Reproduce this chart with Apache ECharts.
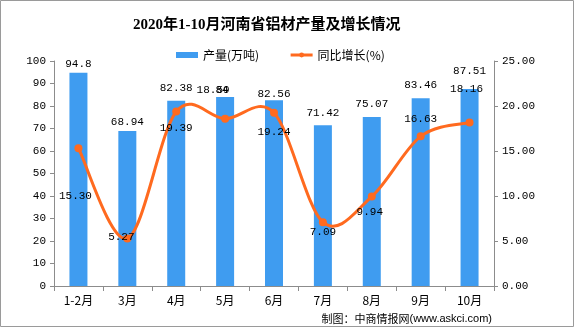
<!DOCTYPE html>
<html><head><meta charset="utf-8">
<script src="https://cdn.jsdelivr.net/npm/echarts@6/dist/echarts.min.js"></script>
<style>html,body{margin:0;padding:0;background:#fff}#c{width:574px;height:327px}</style>
</head><body><div id="c"></div>
<script>
const categories = ['1-2月','3月','4月','5月','6月','7月','8月','9月','10月'];
const output = [94.8, 68.94, 82.38, 84, 82.56, 71.42, 75.07, 83.46, 87.51];
const growth = [15.30, 5.27, 19.39, 18.59, 19.24, 7.09, 9.94, 16.63, 18.16];
const leftTicks = {min: 0, max: 100, interval: 10};
const rightTicks = {min: 0, max: 25, interval: 5};

// label placement styles (pixel offsets)
const lineLabelOffsets = [[-3,48],[-6,-1],[0,17],[-12,-29],[0,19],[0,10],[-2,16],[0,-17],[-3,-33]];
const barLabelGaps = [9,9,13,7,7,13,13,14,19];
const barLabelDx = [0,0,0,-3,0,0,0,0,0];

const numFont = 'Liberation Mono';
const orange = '#FF6A1F';
const blue = '#3F9CF0';

// Excel-like smoothed segment (Catmull-Rom -> cubic bezier) between point i and i+1
function renderSegment(params, api) {
  const i = params.dataIndex;
  if (i >= growth.length - 1) return null;
  const P = k => {
    const kk = Math.max(0, Math.min(growth.length - 1, k));
    return api.coord([kk, growth[kk]]);
  };
  const p0 = P(i - 1), p1 = P(i), p2 = P(i + 1), p3 = P(i + 2);
  const c1 = [p1[0] + (p2[0] - p0[0]) / 6, p1[1] + (p2[1] - p0[1]) / 6];
  const c2 = [p2[0] - (p3[0] - p1[0]) / 6, p2[1] - (p3[1] - p1[1]) / 6];
  return {
    type: 'bezierCurve',
    shape: {x1: p1[0], y1: p1[1], cpx1: c1[0], cpy1: c1[1], cpx2: c2[0], cpy2: c2[1], x2: p2[0], y2: p2[1]},
    style: {stroke: orange, lineWidth: 3, fill: 'none', lineCap: 'round'}
  };
}

const chart = echarts.init(document.getElementById('c'));
chart.setOption({
  animation: false,
  title: {
    text: '2020年1-10月河南省铝材产量及增长情况',
    left: 128, top: 13,
    textStyle: {fontSize: 15, fontWeight: 'bold', color: '#000', fontFamily: 'Liberation Serif, Noto Sans CJK SC'}
  },
  legend: {
    top: 44, left: 171, itemGap: 30,
    textStyle: {fontSize: 12, color: '#000', fontFamily: 'Noto Sans CJK SC'},
    data: [
      {name: '产量(万吨)', icon: 'rect', itemStyle: {color: blue}},
      {name: '同比增长(%)', lineStyle: {color: orange, width: 3, opacity: 1}}
    ],
    itemWidth: 22, itemHeight: 6
  },
  grid: {left: 54, right: 80, top: 61, bottom: 41},
  xAxis: {
    type: 'category', data: categories, boundaryGap: true,
    axisLine: {lineStyle: {color: '#8c8c8c'}},
    axisTick: {show: true, alignWithLabel: false, length: 5, lineStyle: {color: '#8c8c8c'}},
    axisLabel: {color: '#000', fontSize: 12, margin: 8, fontFamily: 'Noto Sans CJK SC'}
  },
  yAxis: [
    {type: 'value', min: leftTicks.min, max: leftTicks.max, interval: leftTicks.interval,
     splitLine: {show: false},
     axisLine: {show: true, lineStyle: {color: '#8c8c8c'}},
     axisTick: {show: true, length: 4, lineStyle: {color: '#8c8c8c'}},
     axisLabel: {color: '#000', fontSize: 11, margin: 8, fontFamily: numFont}},
    {type: 'value', min: rightTicks.min, max: rightTicks.max, interval: rightTicks.interval,
     splitLine: {show: false},
     axisLine: {show: true, lineStyle: {color: '#8c8c8c'}},
     axisTick: {show: true, length: 4, lineStyle: {color: '#8c8c8c'}},
     axisLabel: {color: '#000', fontSize: 11, margin: 8, fontFamily: numFont,
                 formatter: v => v.toFixed(2)}}
  ],
  series: [
    {
      name: '产量(万吨)', type: 'bar', yAxisIndex: 0, barWidth: 18,
      itemStyle: {color: blue},
      data: output.map((v, i) => ({value: v, label: {offset: [barLabelDx[i], -(barLabelGaps[i] - 6)]}})),
      label: {show: true, position: 'top', distance: 0, color: '#000', fontSize: 11, fontFamily: numFont,
              formatter: p => String(p.value)}
    },
    {
      name: 'curve', type: 'custom', yAxisIndex: 1, renderItem: renderSegment,
      data: growth, z: 4, silent: true
    },
    {
      name: '同比增长(%)', type: 'line', yAxisIndex: 1,
      symbol: 'circle', symbolSize: 8,
      lineStyle: {color: orange, width: 3, opacity: 0},
      itemStyle: {color: orange},
      data: growth.map((v, i) => ({value: v, label: {offset: lineLabelOffsets[i]}})),
      label: {show: true, position: 'inside', color: '#000', fontSize: 11, fontFamily: numFont,
              formatter: p => p.value.toFixed(2)},
      z: 5
    }
  ],
  graphic: [
    {type: 'rect', shape: {x: 0.5, y: 0.5, width: 573, height: 326}, style: {fill: 'none', stroke: '#9a9a9a', lineWidth: 1}, silent: true},
    {type: 'text', right: 82, bottom: 3,
     style: {rich: {a: {fontSize: 11, fontFamily: 'Noto Sans CJK SC', fill: '#000'}, b: {fontSize: 11, fontFamily: 'Liberation Sans', fill: '#000'}},
             text: '{a|制图：中商情报网}{b|(www.askci.com)}'}}
  ]
});
</script></body></html>
